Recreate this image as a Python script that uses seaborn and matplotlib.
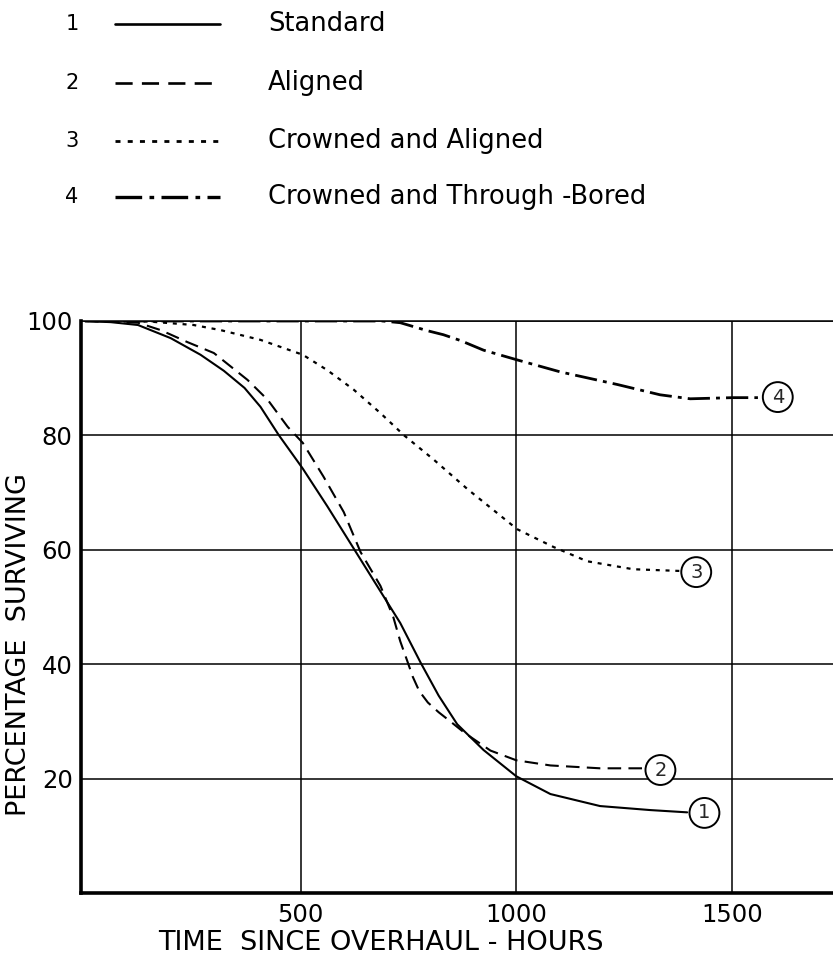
import numpy as np
import pandas as pd
import matplotlib
matplotlib.use("Agg")
import matplotlib.pyplot as plt
from matplotlib.lines import Line2D
import seaborn as sns

# ---- data ----
std_x = [0, 60, 123, 199, 268, 322, 370, 407, 449, 505, 562, 620, 692, 731, 778, 820, 863, 924, 1000, 1079, 1194, 1310, 1396]
std_y = [100, 99.8, 99.3, 97.0, 94.1, 91.3, 88.3, 85.0, 80.1, 74.2, 67.6, 60.6, 51.9, 47.2, 40.3, 34.5, 29.5, 25.0, 20.4, 17.3, 15.2, 14.5, 14.1]

ali_x = [0, 123, 176, 238, 299, 377, 424, 470, 505, 553, 600, 639, 685, 715, 731, 748, 760, 775, 795, 820, 847, 880, 940, 1000, 1079, 1194, 1294]
ali_y = [100, 99.7, 98.4, 96.3, 94.4, 89.7, 86.2, 81.5, 78.7, 72.8, 66.6, 59.6, 53.7, 48.2, 44.0, 40.4, 37.8, 35.3, 33.3, 31.6, 30.0, 28.0, 24.9, 23.2, 22.3, 21.8, 21.8]

cra_x = [0, 150, 252, 315, 407, 505, 562, 623, 685, 740, 808, 887, 1002, 1086, 1164, 1271, 1380]
cra_y = [100, 99.9, 99.3, 98.4, 96.7, 94.1, 91.4, 88.0, 83.9, 80.0, 75.8, 70.6, 63.6, 60.5, 58.0, 56.6, 56.3]

ctb_x = [0, 690, 731, 794, 831, 870, 924, 1002, 1102, 1234, 1333, 1403, 1502, 1560]
ctb_y = [100, 100, 99.7, 98.3, 97.6, 96.6, 94.9, 93.2, 91.1, 88.9, 87.1, 86.4, 86.6, 86.6]

series_names = ["Standard", "Aligned", "Crowned and Aligned", "Crowned and Through -Bored"]
series_nums = ["1", "2", "3", "4"]
label_x = [1436, 1334, 1417, 1606]
label_y = [14.0, 21.5, 56.1, 86.7]

x_ticks = [500, 1000, 1500]
y_ticks = [20, 40, 60, 80, 100]

# ---- styling ----
sns.set_theme(style="white")
plt.rcParams["font.family"] = ["DejaVu Sans"]

styles = [
    dict(lw=1.5, ls="-"),
    dict(lw=1.5, ls=(0, (6.5, 3.5))),
    dict(lw=1.6, ls=(0, (1.8, 2.6))),
    dict(lw=2.0, ls=(0, (8, 2.2, 1.4, 2.2))),
]

W, H = 833, 959
fig = plt.figure(figsize=(W / 100, H / 100), dpi=100)
fig.patch.set_facecolor("white")
ax = fig.add_axes([81 / W, 1 - 893 / H, (W - 81) / W, (893 - 321) / H])

frames = []
for name, xs, ys in zip(series_names, [std_x, ali_x, cra_x, ctb_x], [std_y, ali_y, cra_y, ctb_y]):
    frames.append(pd.DataFrame({"hours": xs, "pct": ys, "series": name}))
df = pd.concat(frames, ignore_index=True)

for name, st in zip(series_names, styles):
    sub = df[df["series"] == name]
    sns.lineplot(data=sub, x="hours", y="pct", ax=ax, color="black",
                 linewidth=st["lw"], linestyle=st["ls"], estimator=None, sort=False)

for num, lx, ly in zip(series_nums, label_x, label_y):
    ax.text(lx, ly, num, ha="center", va="center", fontsize=14,
            bbox=dict(boxstyle="circle,pad=0.28", fc="white", ec="black", lw=1.4), zorder=5)

ax.set_xlim(-9, 1734)
ax.set_ylim(0, 100)
ax.set_xticks(x_ticks)
ax.set_yticks(y_ticks)
ax.set_xticklabels([str(v) for v in x_ticks])
ax.set_yticklabels([str(v) for v in y_ticks])
ax.tick_params(axis="both", length=0, labelsize=17.5, colors="black")
ax.tick_params(axis="x", pad=7)
ax.tick_params(axis="y", pad=6)

ax.grid(True, color="black", linewidth=1.1)
ax.set_axisbelow(True)
for side in ["left", "bottom"]:
    ax.spines[side].set_linewidth(2.6)
    ax.spines[side].set_color("black")
ax.spines["top"].set_linewidth(1.1)
ax.spines["top"].set_color("black")
ax.spines["right"].set_visible(False)

ax.set_xlabel("TIME  SINCE OVERHAUL - HOURS", fontsize=19.5, color="black")
ax.set_ylabel("PERCENTAGE  SURVIVING", fontsize=19.5, color="black")
ax.xaxis.set_label_coords((381 - 81) / 752, (893 - 930) / 572)
ax.yaxis.set_label_coords((32 - 81) / 752, (893 - 645) / 572)

# ---- legend at the top ----
row_y = [24, 83, 141, 197]
for num, name, st, ry in zip(series_nums, series_names, styles, row_y):
    fy = 1 - ry / H
    fig.text(72 / W, fy, num, ha="center", va="center", fontsize=15, color="black")
    fig.add_artist(Line2D([115 / W, 220 / W], [fy, fy], color="black",
                          linewidth=st["lw"] + 0.4, linestyle=st["ls"], transform=fig.transFigure))
    fig.text(268 / W, fy, name, ha="left", va="center", fontsize=18.5, color="black")

fig.savefig("out.png", dpi=100, facecolor="white")
